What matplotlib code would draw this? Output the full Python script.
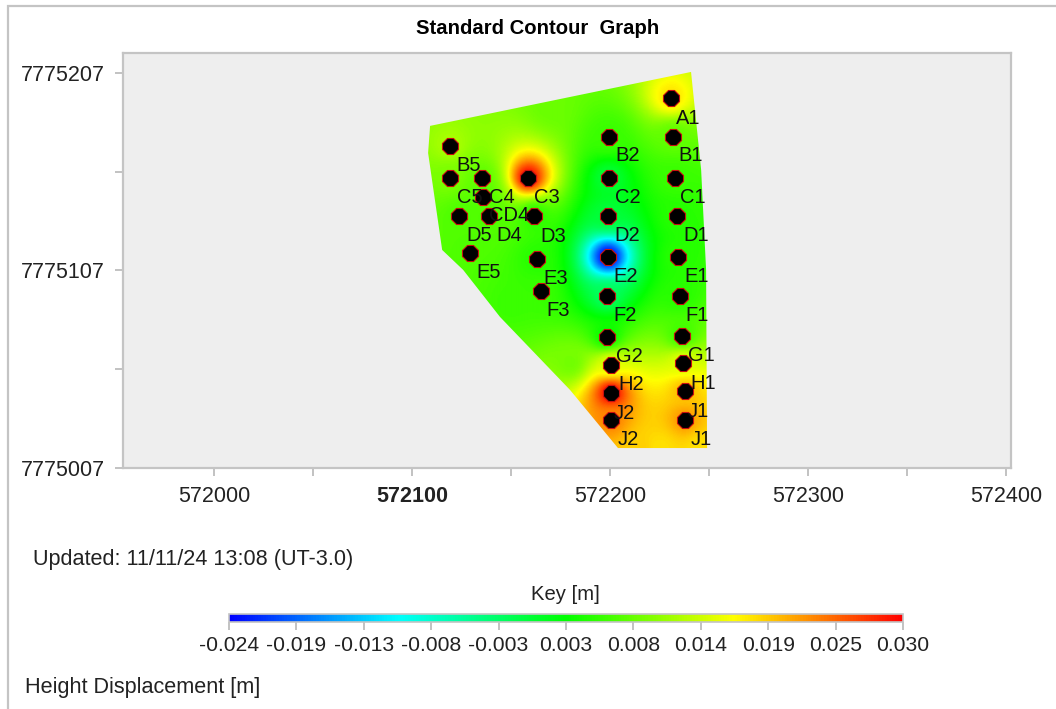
import numpy as np
import matplotlib
matplotlib.use("Agg")
import matplotlib.pyplot as plt
from matplotlib.colors import LinearSegmentedColormap, Normalize
from matplotlib.cm import ScalarMappable
from matplotlib.patches import Polygon, Rectangle
from matplotlib.ticker import MultipleLocator

plt.rcParams['font.family'] = ['Liberation Sans', 'DejaVu Sans']

# station names, positions (easting / northing) and height displacement [m]
names = ['A1', 'B1', 'B2', 'B5', 'C1', 'C2', 'C3', 'C4', 'C5', 'CD4', 'D1', 'D2', 'D3', 'D4', 'D5',
         'E1', 'E2', 'E3', 'E5', 'F1', 'F2', 'F3', 'G1', 'G2', 'H1', 'H2', 'J1', 'J2', 'J1', 'J2']
east = [572230.8, 572231.8, 572199.5, 572119.2, 572232.8, 572199.5, 572158.6, 572135.4, 572119.2, 572135.9,
        572233.8, 572199.0, 572161.6, 572138.9, 572123.7, 572234.3, 572199.0, 572163.1, 572129.3, 572235.3,
        572198.5, 572165.2, 572236.4, 572198.5, 572236.9, 572200.5, 572237.9, 572200.5, 572237.9, 572200.5]
north = [7775194.3, 7775174.6, 7775174.6, 7775170.0, 7775153.8, 7775153.8, 7775153.8, 7775153.8, 7775153.8, 7775144.2,
         7775134.6, 7775134.6, 7775134.6, 7775134.6, 7775134.6, 7775113.8, 7775113.8, 7775112.8, 7775115.7, 7775094.1,
         7775094.1, 7775096.6, 7775073.8, 7775073.3, 7775060.1, 7775059.1, 7775045.9, 7775044.9, 7775031.3, 7775031.3]
disp = [0.018, 0.008, 0.006, 0.012, 0.006, 0.000, 0.030, 0.008, 0.0095, 0.007,
        0.005, 0.000, 0.005, 0.007, 0.007, 0.005, -0.024, 0.005, 0.007, 0.005,
        -0.002, 0.006, 0.006, 0.003, 0.015, 0.015, 0.020, 0.030, 0.022, 0.023]
# label shift from the station, screen pixels
label_dx = [17, 18, 19, 19, 18, 19, 19, 20, 20, 26, 19, 19, 19, 20, 20, 19, 18, 19, 19, 17, 18, 17, 19, 22, 20, 20, 13, 13, 16, 17]
label_dy = [20, 19, 19, 19, 19, 19, 19, 19, 19, 19, 20, 20, 21, 20, 20, 19, 19, 19, 19, 20, 20, 19, 19, 19, 20, 19, 20, 20, 19, 19]

# outline of the surveyed area
outline_x = [572109.1, 572240.9, 572246.0, 572248.5, 572249.0, 572204.0, 572179.8, 572144.4, 572125.8, 572115.2, 572108.1]
outline_y = [7775180.2, 7775207.5, 7775157.9, 7775107.3, 7775017.1, 7775017.1, 7775046.5, 7775083.5, 7775107.3, 7775117.4, 7775166.5]
# values read along the edge of the field
edge_x = [572170.0, 572215.0, 572225.0, 572246.0, 572150.0, 572180.0]
edge_y = [7775190.0, 7775017.0, 7775017.0, 7775017.0, 7775090.0, 7775060.0]
edge_z = [0.0085, 0.019, 0.018, 0.018, 0.006, 0.009]

key_ticks = [-0.024, -0.0186, -0.0132, -0.0078, -0.0024, 0.003, 0.0084, 0.0138, 0.0192, 0.0246, 0.030]
key_labels = ['-0.024', '-0.019', '-0.013', '-0.008', '-0.003', '0.003', '0.008', '0.014', '0.019', '0.025', '0.030']
x_ticks = [572000, 572100, 572200, 572300, 572400]
y_ticks = [7775007, 7775107, 7775207]

W, H = 1056, 709
cmap = LinearSegmentedColormap.from_list('key', ['#0000ff', '#00ffff', '#00ff00', '#ffff00', '#ff0000'])
norm = Normalize(-0.024, 0.030)

fig = plt.figure(figsize=(W / 100, H / 100), dpi=100, facecolor='white')

# outer panel
fig.add_artist(Rectangle((8 / W, -0.01), 1.1, 1 - 6 / H + 0.01, transform=fig.transFigure,
                         fc='white', ec='#c4c4c4', lw=1.6, zorder=-5))


def axes_px(left, top, right, bottom):
    return fig.add_axes([left / W, 1 - bottom / H, (right - left) / W, (bottom - top) / H])


ax = axes_px(123, 53, 1011, 468)
ax.set_facecolor('#eeeeee')
ax.set_xlim(571954.0, 572402.5)
ax.set_ylim(7775007, 7775217.1)

# inverse distance surface from the stations
px = np.array(east + edge_x)
py = np.array(north + edge_y)
pz = np.array(disp + edge_z)
gx, gy = np.meshgrid(np.linspace(572100, 572255, 320), np.linspace(7775010, 7775212, 400))
d = np.hypot(gx[..., None] - px, gy[..., None] - py) + 0.5
w = 1 / d ** 2.5
field = (w * pz).sum(axis=-1) / w.sum(axis=-1)
im = ax.imshow(field, origin='lower', extent=[gx.min(), gx.max(), gy.min(), gy.max()],
               cmap=cmap, norm=norm, aspect='auto', interpolation='bilinear', zorder=1)
clip = Polygon(np.column_stack([outline_x, outline_y]), closed=True, transform=ax.transData, fc='none', ec='none')
ax.add_patch(clip)
im.set_clip_path(clip)

ax.plot(east, north, ls='none', marker='8', ms=12, mfc='black', mec='#c81010', mew=0.8, zorder=3)
for name, x, y, dx, dy in zip(names, east, north, label_dx, label_dy):
    ax.annotate(name, (x, y), xytext=(dx, -dy), textcoords='offset pixels', ha='center', va='center',
                fontsize=14.5, color='#111111', zorder=4)

ax.set_xticks(x_ticks)
ax.set_yticks(y_ticks)
ax.set_xticklabels([str(v) for v in x_ticks])
ax.set_yticklabels([str(v) for v in y_ticks])
ax.xaxis.set_minor_locator(MultipleLocator(50))
ax.set_yticks([7775057, 7775157], minor=True)
ax.tick_params(which='both', length=6, width=1.2, color='#b8b8b8', labelsize=15.5, pad=7, labelcolor='#222222')
ax.get_xticklabels()[1].set_fontweight('bold')
for s in ax.spines.values():
    s.set_color('#c4c4c4')
    s.set_linewidth(1.6)

fig.text(538 / W, 1 - 28 / H, 'Standard Contour  Graph', ha='center', va='center', fontsize=14.6, fontweight='bold')
fig.text(33 / W, 1 - 560 / H, 'Updated: 11/11/24 13:08 (UT-3.0)', ha='left', va='center', fontsize=15.6, color='#222222')
fig.text(565 / W, 1 - 594 / H, 'Key [m]', ha='center', va='center', fontsize=14.6, color='#222222')
fig.text(25 / W, 1 - 687 / H, 'Height Displacement [m]', ha='left', va='center', fontsize=15.6, color='#222222')

cax = axes_px(229, 614, 903, 622)
cb = fig.colorbar(ScalarMappable(norm=norm, cmap=cmap), cax=cax, orientation='horizontal')
cb.set_ticks(key_ticks)
cb.set_ticklabels(key_labels)
cb.minorticks_off()
cax.tick_params(length=6, width=1.2, color='#b8b8b8', labelsize=15.2, pad=4, labelcolor='#222222')
cb.outline.set_edgecolor('#c4c4c4')
cb.outline.set_linewidth(1.2)

fig.savefig('out.png', dpi=100)
